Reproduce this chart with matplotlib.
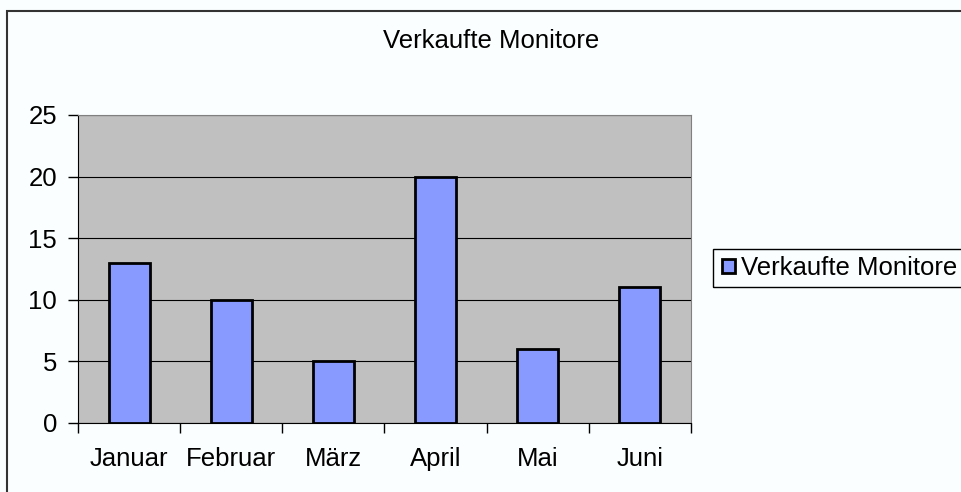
import matplotlib.pyplot as plt
from matplotlib.patches import Rectangle

months = ["Januar", "Februar", "März", "April", "Mai", "Juni"]
sold = [13, 10, 5, 20, 6, 11]
yticks = [0, 5, 10, 15, 20, 25]

plt.rcParams['font.family'] = ['Liberation Sans', 'DejaVu Sans']
FS = 18.5

W, H = 962, 492
fig = plt.figure(figsize=(W / 100, H / 100), dpi=100, facecolor="#fbfefe")

# outer chart frame (runs off the right and bottom edge)
fig.patches.append(Rectangle((7 / W, -0.1), 1.2, 1 - 11 / H + 0.1, transform=fig.transFigure,
                             fill=False, edgecolor="#333333", linewidth=1.5))
# legend frame, also cut off at the right edge
fig.patches.append(Rectangle((713 / W, 1 - 287 / H), 0.5, 38 / H, transform=fig.transFigure,
                             fill=False, edgecolor="black", linewidth=1))

ax = fig.add_axes([78 / W, 1 - 423 / H, (691 - 78) / W, (423 - 115) / H])
ax.set_facecolor("#c0c0c0")

x = range(len(months))
ax.bar(x, sold, width=0.4, color="#8899ff", edgecolor="black", linewidth=2,
       zorder=3, label="Verkaufte Monitore")

ax.set_xlim(-0.5, len(months) - 0.5)
ax.set_ylim(0, 25)
ax.set_yticks(yticks)
ax.set_yticklabels([str(v) for v in yticks], fontsize=FS)
ax.yaxis.grid(True, color="black", linewidth=0.8, zorder=1)

ax.set_xticks([i - 0.5 for i in range(len(months) + 1)])
ax.set_xticklabels([])
ax.set_xticks(list(x), minor=True)
ax.set_xticklabels(months, minor=True, fontsize=FS)
ax.tick_params(axis="x", which="minor", length=0, pad=17)
ax.tick_params(axis="x", which="major", length=7, direction="out", width=1)
ax.tick_params(axis="y", length=7, direction="out", width=1, pad=8)

for s in ["top", "right"]:
    ax.spines[s].set_color("#808080")
for s in ["left", "bottom"]:
    ax.spines[s].set_color("black")

fig.text(491 / W, 1 - 41 / H, "Verkaufte Monitore", ha="center", va="center", fontsize=FS)

fig.legend(loc="center left", bbox_to_anchor=(714 / W, 1 - 268 / H), fontsize=FS,
           frameon=False, handlelength=0.5, handleheight=0.5, handletextpad=0.25,
           borderpad=0.3, borderaxespad=0)

fig.savefig("out.png", dpi=100, facecolor=fig.get_facecolor())
